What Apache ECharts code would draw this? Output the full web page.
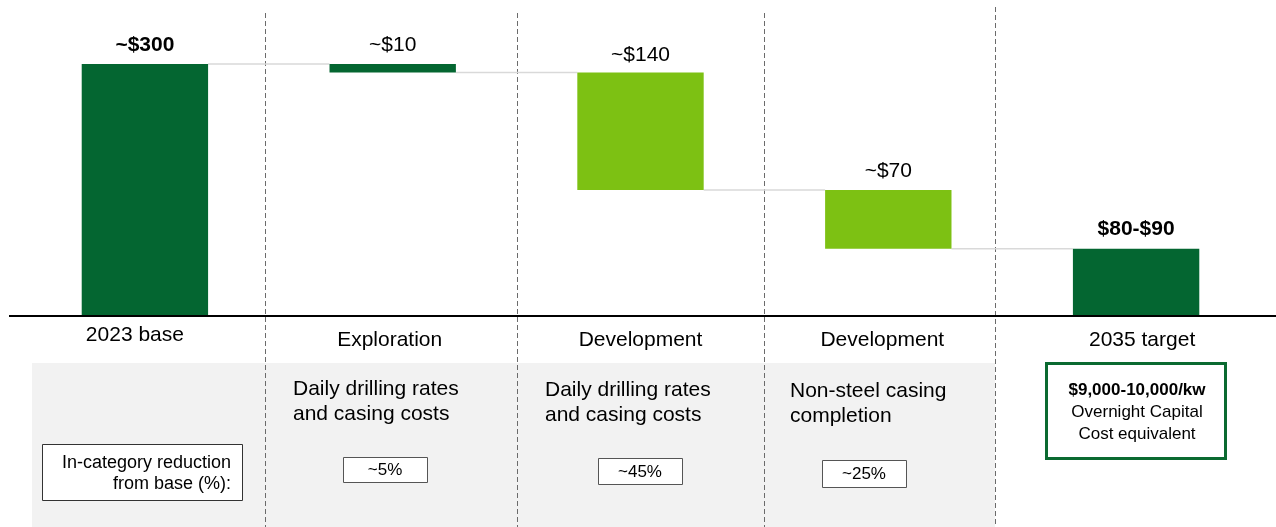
<!DOCTYPE html>
<html><head><meta charset="utf-8">
<script src="https://cdn.jsdelivr.net/npm/echarts@6/dist/echarts.min.js"></script>
<style>html,body{margin:0;padding:0;background:#fff}#c{width:1276px;height:527px}</style>
</head><body><div id="c"></div>
<script>
// ---- data ----
const categories = ['2023 base', 'Exploration', 'Development', 'Development', '2035 target'];
const startValue = 300;
const reductionSteps = [10, 140, 70];
const valueLabels = ['~$300', '~$10', '~$140', '~$70', '$80-$90'];
const descriptions = ['', 'Daily drilling rates\nand casing costs', 'Daily drilling rates\nand casing costs', 'Non-steel casing\ncompletion', ''];
const reductionShares = ['', '~5%', '~45%', '~25%', ''];
const legendNote = 'In-category reduction\nfrom base (%):';
const targetNoteBold = '$9,000-10,000/kw';
const targetNote = 'Overnight Capital\nCost equivalent';

// ---- derived waterfall ----
const endValue = startValue - reductionSteps.reduce((a, b) => a + b, 0);
const barValues = [startValue, ...reductionSteps, endValue];
const baseValues = [0];
const connectorLevels = [[0, startValue]];
let lvl = startValue;
reductionSteps.forEach((r, i) => { lvl -= r; baseValues.push(lvl); connectorLevels.push([i + 1, lvl]); });
baseValues.push(0);

const DARK = '#046631', LIGHT = '#7dc113';
const FONT = 'Arial, "Liberation Sans", Helvetica, sans-serif';
const barColors = [DARK, DARK, LIGHT, LIGHT, DARK];
const labelBold = [true, false, false, false, true];
const labelDist = [8, 8, 7, 8, 9];

// label placement tweaks (layout only)
const labelDx = [-10, -3, 0, -6, 6];
const labelDy = [0, 5, 5, 5, 5];

const chart = echarts.init(document.getElementById('c'), null, { renderer: 'canvas' });

const graphic = [];
// grey panel
graphic.push({ type: 'rect', shape: { x: 32, y: 363, width: 963, height: 164 }, style: { fill: '#f2f2f2' }, z: 0 });
// separators
[[265, 13], [517, 13], [764, 13], [995, 7]].forEach(([x, y0]) => {
  graphic.push({ type: 'line', shape: { x1: x + 0.5, y1: y0, x2: x + 0.5, y2: 527 }, style: { stroke: '#6b6b6b', lineWidth: 1, lineDash: [5, 3] }, z: 1 });
});
// baseline extension
graphic.push({ type: 'line', shape: { x1: 9, y1: 316, x2: 1276, y2: 316 }, style: { stroke: '#000', lineWidth: 2 }, z: 5 });
// descriptions
const descPos = [null, [293, 377], [545, 378], [790, 379], null];
descriptions.forEach((t, i) => {
  if (!t) return;
  graphic.push({ type: 'text', x: descPos[i][0], y: descPos[i][1], z: 2,
    style: { text: t, fontSize: 21, fontFamily: FONT, fill: '#000', align: 'left', verticalAlign: 'top', lineHeight: 25 } });
});
// reduction share boxes
const boxPos = [null, [343, 457, 84, 25], [598, 458, 84, 26], [822, 460, 84, 27], null];
reductionShares.forEach((t, i) => {
  if (!t) return;
  const [x, y, w, h] = boxPos[i];
  graphic.push({ type: 'rect', shape: { x: x + 0.5, y: y + 0.5, width: w, height: h }, style: { fill: '#fff', stroke: '#555', lineWidth: 1 }, z: 2 });
  graphic.push({ type: 'text', x: x + w / 2, y: y + h / 2 + 1, z: 3,
    style: { text: t, fontSize: 17, fontFamily: FONT, fill: '#000', align: 'center', verticalAlign: 'middle' } });
});
// legend note
graphic.push({ type: 'rect', shape: { x: 42.5, y: 444.5, width: 200, height: 56 }, style: { fill: '#fff', stroke: '#333', lineWidth: 1 }, z: 2 });
graphic.push({ type: 'text', x: 231, y: 474, z: 3,
  style: { text: legendNote, fontSize: 18, fontFamily: FONT, fill: '#000', align: 'right', verticalAlign: 'middle', lineHeight: 21 } });
// target note
graphic.push({ type: 'rect', shape: { x: 1046.5, y: 363.5, width: 179, height: 95 }, style: { fill: '#fff', stroke: '#0b6a31', lineWidth: 3 }, z: 2 });
graphic.push({ type: 'text', x: 1137, y: 390, z: 3,
  style: { text: targetNoteBold, fontSize: 17, fontWeight: 'bold', fontFamily: FONT, fill: '#000', align: 'center', verticalAlign: 'middle' } });
graphic.push({ type: 'text', x: 1137, y: 423, z: 3,
  style: { text: targetNote, fontSize: 17, fontFamily: FONT, fill: '#000', align: 'center', verticalAlign: 'middle', lineHeight: 22 } });

const option = {
  animation: false,
  grid: { left: 21, right: 16, top: 64, bottom: 211 },
  xAxis: {
    type: 'category',
    data: categories.map((c, i) => {
      const dx = labelDx[i];
      return { value: c, textStyle: { padding: [labelDy[i], dx < 0 ? -2 * dx : 0, 0, dx > 0 ? 2 * dx : 0] } };
    }),
    axisLine: { show: true, lineStyle: { color: '#000', width: 2 } },
    axisTick: { show: false },
    splitLine: { show: false },
    axisLabel: { margin: 9, fontSize: 21, fontFamily: FONT, color: '#000', interval: 0 }
  },
  yAxis: { type: 'value', min: 0, max: 300, show: false, splitLine: { show: false } },
  graphic: graphic,
  series: [
    {
      type: 'custom', z: 1,
      data: connectorLevels,
      renderItem: (params, api) => {
        const i = api.value(0), v = api.value(1);
        const p0 = api.coord([i, v]), p1 = api.coord([i + 1, v]);
        const hw = api.size([1, 0])[0] * 0.51 / 2;
        return { type: 'line', shape: { x1: p0[0] + hw, y1: p0[1], x2: p1[0] - hw, y2: p1[1] }, style: { stroke: '#d9d9d9', lineWidth: 1.5 } };
      }
    },
    {
      type: 'bar', stack: 'wf', barWidth: '51%', silent: true,
      itemStyle: { color: 'transparent' },
      data: baseValues
    },
    {
      type: 'bar', stack: 'wf', barWidth: '51%', z: 3,
      data: barValues.map((v, i) => ({
        value: v,
        itemStyle: { color: barColors[i] },
        label: { fontWeight: labelBold[i] ? 'bold' : 'normal', distance: labelDist[i] }
      })),
      label: {
        show: true, position: 'top', fontSize: 21, fontFamily: FONT, color: '#000',
        formatter: p => valueLabels[p.dataIndex]
      }
    }
  ]
};
chart.setOption(option);
</script>
</body></html>
